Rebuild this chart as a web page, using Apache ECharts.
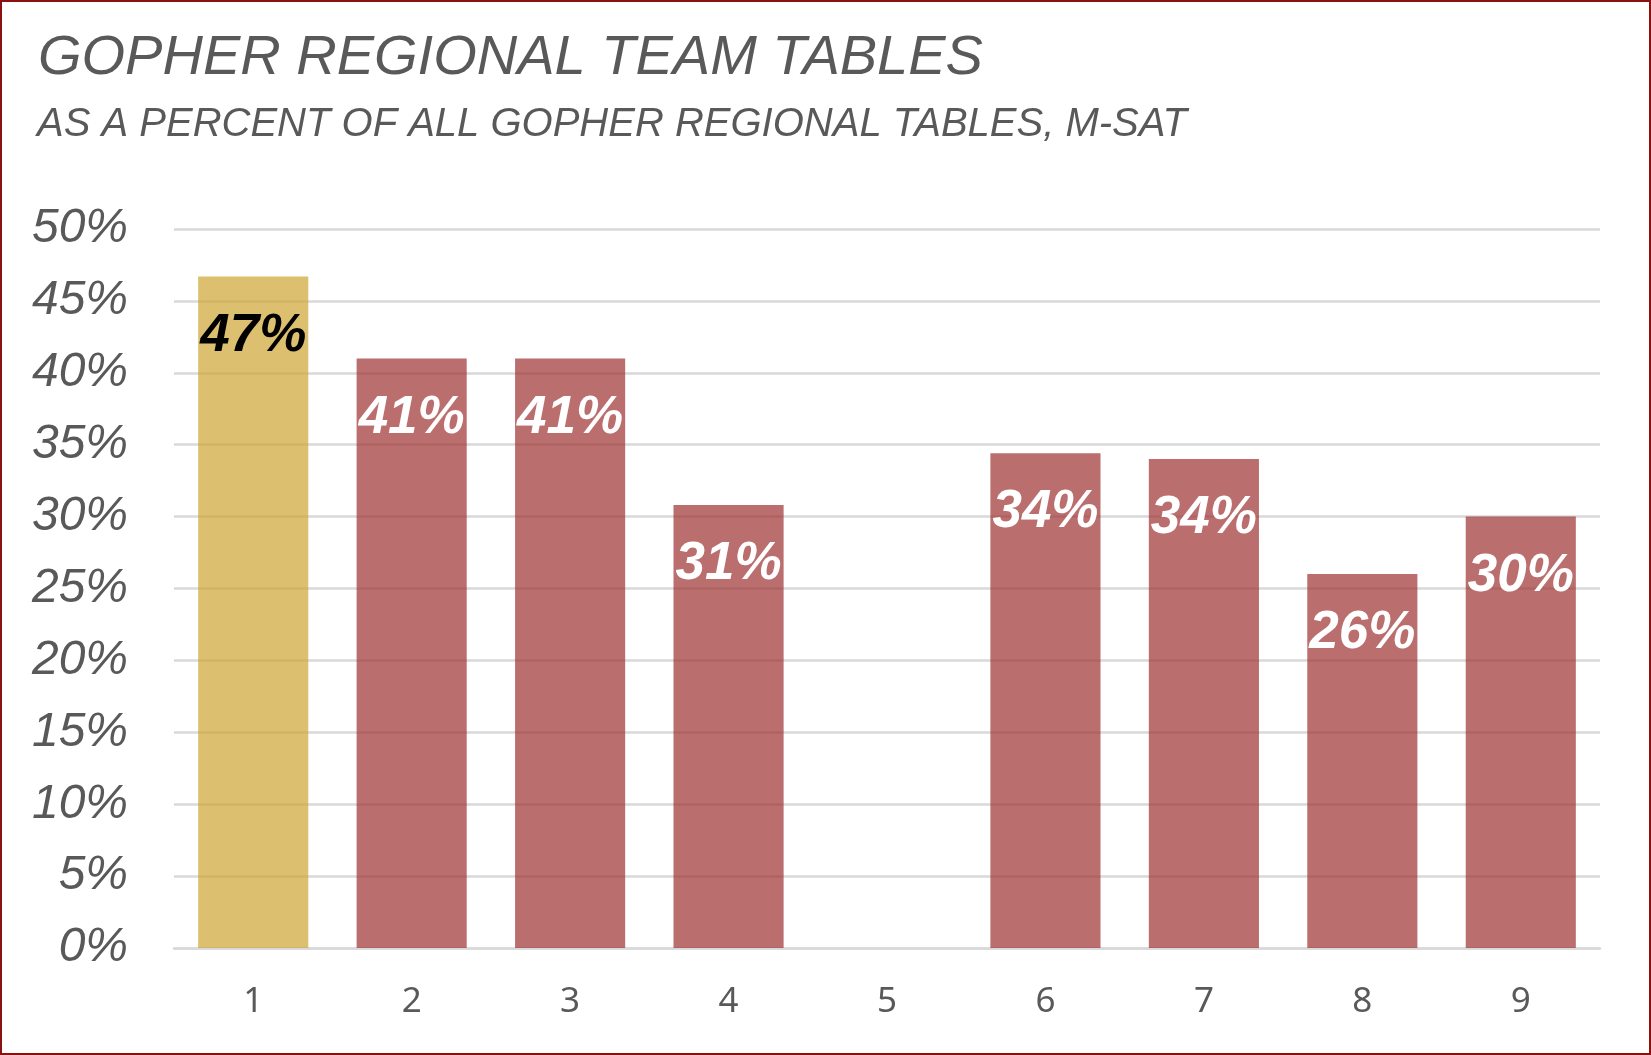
<!DOCTYPE html>
<html lang="en">
<head>
    <meta charset="UTF-8">
    <title>Gopher Regional Team Tables</title>
    <script src="https://cdn.jsdelivr.net/npm/echarts@6.0.0/dist/echarts.min.js"></script>
    <style>
        body, html {
            margin: 0;
            padding: 0;
            width: 100%;
            height: 100%;
            background-color: #ffffff;
        }
        #chart {
            position: absolute;
            left: 0;
            top: 0;
            width: 1651px;
            height: 1055px;
        }
        #frame {
            position: absolute;
            left: 0;
            top: 0;
            width: 1651px;
            height: 1055px;
            box-sizing: border-box;
            border: 2px solid #8b1010;
            pointer-events: none;
        }
    </style>
</head>
<body>
    <div id="chart"></div>
    <div id="frame"></div>

    <script>
        // 数据
        const categories = ['1', '2', '3', '4', '5', '6', '7', '8', '9'];
        const shares = [0.467, 0.41, 0.41, 0.308, null, 0.344, 0.34, 0.26, 0.30];
        const highlightIndex = 0;   // 第一个柱子用金色

        const gold = 'rgba(206, 166, 52, 0.71)';
        const maroon = 'rgba(158, 52, 51, 0.71)';

        var chart = echarts.init(document.getElementById('chart'));

        var barData = shares.map(function (v, i) {
            var isGold = i === highlightIndex;
            return {
                value: v,
                itemStyle: { color: isGold ? gold : maroon },
                label: { color: isGold ? '#000000' : '#ffffff' }
            };
        });

        var option = {
            animation: false,
            title: [{
                text: 'GOPHER REGIONAL TEAM TABLES',
                left: 33,
                top: 25,
                textStyle: {
                    fontFamily: 'Liberation Sans',
                    fontStyle: 'italic',
                    fontWeight: 'normal',
                    fontSize: 56,
                    lineHeight: 56,
                    color: '#595959'
                }
            }, {
                text: 'AS A PERCENT OF ALL GOPHER REGIONAL TABLES, M-SAT',
                left: 32,
                top: 100,
                textStyle: {
                    fontFamily: 'Liberation Sans',
                    fontStyle: 'italic',
                    fontWeight: 'normal',
                    fontSize: 40,
                    lineHeight: 40,
                    color: '#595959'
                }
            }],
            grid: {
                left: 174,
                right: 51,
                top: 229,
                bottom: 107
            },
            xAxis: {
                type: 'category',
                data: categories,
                axisLine: { show: true, lineStyle: { color: '#d9d9d9', width: 2.5 } },
                axisTick: { show: false },
                axisLabel: {
                    margin: 37,
                    fontFamily: 'Noto Sans',
                    fontSize: 35,
                    color: '#595959'
                }
            },
            yAxis: {
                type: 'value',
                min: 0,
                max: 0.5,
                interval: 0.05,
                axisLine: { show: false },
                axisTick: { show: false },
                splitLine: { lineStyle: { color: '#d9d9d9', width: 2.5 } },
                axisLabel: {
                    margin: 46,
                    fontFamily: 'Liberation Sans',
                    fontStyle: 'italic',
                    fontSize: 48,
                    color: '#595959',
                    formatter: function (v) { return Math.round(v * 100) + '%'; }
                }
            },
            series: [{
                type: 'bar',
                data: barData,
                barCategoryGap: '30.5%',
                label: {
                    show: true,
                    position: 'insideTop',
                    distance: 33,
                    fontFamily: 'Liberation Sans',
                    fontStyle: 'italic',
                    fontWeight: 'bold',
                    fontSize: 53,
                    lineHeight: 53,
                    formatter: function (p) {
                        return p.value == null ? '' : Math.round(p.value * 100) + '%';
                    }
                }
            }]
        };

        chart.setOption(option);
    </script>
</body>
</html>
